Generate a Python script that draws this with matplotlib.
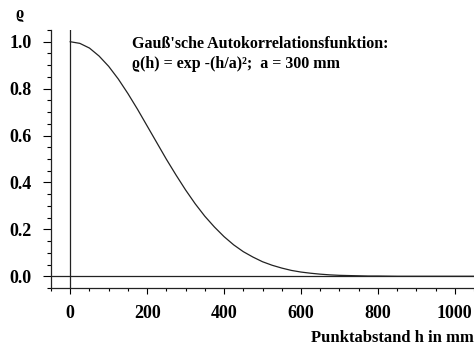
import matplotlib
matplotlib.use("Agg")
import matplotlib.pyplot as plt
from matplotlib.ticker import MultipleLocator

# Punktabstand h in mm and correlation values
h = [0, 25, 50, 75, 100, 125, 150, 175, 200, 225, 250, 275, 300, 325, 350,
     375, 400, 425, 450, 475, 500, 525, 550, 575, 600, 625, 650, 675, 700,
     725, 750, 775, 800, 850, 900, 950, 1000, 1050]
rho = [1.000, 0.993, 0.973, 0.939, 0.895, 0.841, 0.779, 0.712, 0.641, 0.570,
       0.499, 0.432, 0.368, 0.309, 0.256, 0.210, 0.169, 0.134, 0.105, 0.082,
       0.062, 0.047, 0.035, 0.025, 0.018, 0.013, 0.009, 0.006, 0.004, 0.003,
       0.002, 0.001, 0.001, 0.0, 0.0, 0.0, 0.0, 0.0]

x_ticks = [0, 200, 400, 600, 800, 1000]
y_ticks = [0.0, 0.2, 0.4, 0.6, 0.8, 1.0]

plt.rcParams['font.family'] = ['Liberation Serif', 'DejaVu Serif']
plt.rcParams['font.weight'] = 'bold'

fig = plt.figure(figsize=(4.74, 3.52), dpi=100)
ax = fig.add_axes([51 / 474, 64 / 352, 423 / 474, 258 / 352])

ax.plot(h, rho, color='#222222', lw=0.9)
ax.axhline(0, color='#222222', lw=0.9)
ax.axvline(0, color='#222222', lw=0.9)

ax.set_xlim(-50, 1050)
ax.set_ylim(-0.05, 1.05)
ax.set_xticks(x_ticks)
ax.set_xticklabels([str(v) for v in x_ticks])
ax.set_yticks(y_ticks)
ax.set_yticklabels(["%.1f" % v for v in y_ticks])
ax.xaxis.set_minor_locator(MultipleLocator(50))
ax.yaxis.set_minor_locator(MultipleLocator(0.05))

for s in ['top', 'right']:
    ax.spines[s].set_visible(False)
for s in ['left', 'bottom']:
    ax.spines[s].set_color('#222222')
    ax.spines[s].set_linewidth(0.9)

ax.tick_params(axis='y', which='major', length=6, width=0.8, pad=8, labelsize=13)
ax.tick_params(axis='y', which='minor', length=3, width=0.8)
ax.tick_params(axis='x', which='major', length=4, width=0.8, pad=8, labelsize=13)
ax.tick_params(axis='x', which='minor', length=2.5, width=0.8)

ax.text(160, 0.975, "Gauß'sche Autokorrelationsfunktion:", fontsize=11.5, va='baseline')
ax.text(160, 0.888, "ϱ(h) = exp -(h/a)²;  a = 300 mm", fontsize=11.5, va='baseline')

fig.text(20 / 474, 1 - 14 / 352, "ϱ", fontsize=12, ha='center', va='center')
fig.text(1.0, 1 - 338 / 352, "Punktabstand h in mm", fontsize=12, ha='right', va='center')

fig.savefig("out.png", dpi=100)
